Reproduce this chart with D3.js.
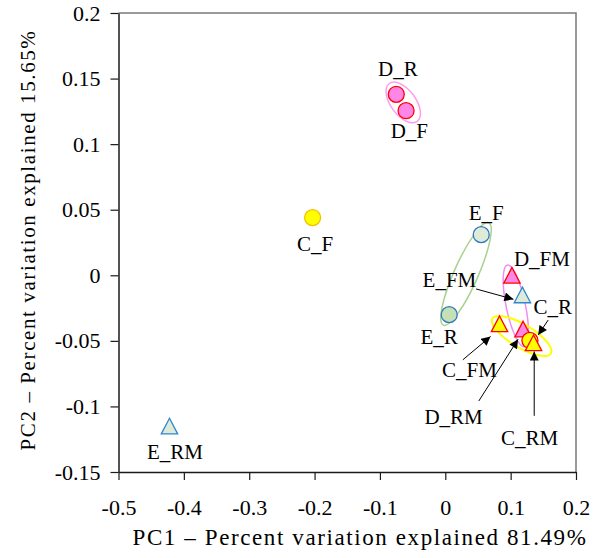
<!DOCTYPE html>
<html>
<head>
<meta charset="utf-8">
<script src="https://cdn.jsdelivr.net/npm/d3@7"></script>
<style>
  body { margin: 0; background: #fff; }
  svg { display: block; font-family: "Liberation Serif", "Times New Roman", serif; }
</style>
</head>
<body>
<svg id="chart" width="604" height="558"></svg>
<script>
// sample scores on the first two principal components
var sampleNames = ["D_R", "D_F", "C_F", "E_F", "E_R", "D_FM", "E_FM", "C_FM", "D_RM", "C_R", "C_RM", "E_RM"];
var pc1 = [-0.075, -0.060, -0.203, 0.055, 0.006, 0.102, 0.118, 0.083, 0.119, 0.1295, 0.135, -0.422];
var pc2 = [0.138, 0.1255, 0.044, 0.031, -0.030, 0.000, -0.015, -0.037, -0.041, -0.0497, -0.0515, -0.115];

var xTicks = [-0.5, -0.4, -0.3, -0.2, -0.1, 0, 0.1, 0.2];
var yTicks = [-0.15, -0.1, -0.05, 0, 0.05, 0.1, 0.15, 0.2];

var xTitle = "PC1 \u2013 Percent variation explained 81.49%";
var yTitle = "PC2 \u2013 Percent variation explained 15.65%";

// group ellipses: centre in data units
var ellipseNames = ["D", "E", "DM", "C"];
var ellipseCx = [-0.0643, 0.0317, 0.1079, 0.1169];
var ellipseCy = [0.1318, 0.001, -0.0233, -0.0463];

// labels with a leader arrow
var arrowNames = ["E_FM", "C_R", "C_FM", "D_RM", "C_RM"];

// ---- styles / layout (pixels) ----
var markerStyle = {
	"D_R":  {shape: "circle",   fill: "#ff85e6", stroke: "#ff0000"},
	"D_F":  {shape: "circle",   fill: "#ff85e6", stroke: "#ff0000"},
	"C_F":  {shape: "circle",   fill: "#ffff00", stroke: "#f2c200"},
	"E_F":  {shape: "circle",   fill: "#deebd8", stroke: "#2e78c0"},
	"E_R":  {shape: "circle",   fill: "#c5e0b4", stroke: "#2e78c0"},
	"D_FM": {shape: "triangle", fill: "#ff85e6", stroke: "#ff0000"},
	"E_FM": {shape: "triangle", fill: "#deebd8", stroke: "#2e86d0"},
	"C_FM": {shape: "triangle", fill: "#ffff00", stroke: "#ff0000"},
	"D_RM": {shape: "triangle", fill: "#ff85e6", stroke: "#ff0000"},
	"C_R":  {shape: "circle",   fill: "#ffff00", stroke: "#ff0000"},
	"C_RM": {shape: "triangle", fill: "#ffff00", stroke: "#ff0000"},
	"E_RM": {shape: "triangle", fill: "#deebd8", stroke: "#2e86d0"}
};
// dx to text centre, dy to baseline
var labelOffset = {
	"D_R": [1.7, -18.3], "D_F": [3.3, 27.6], "C_F": [2.5, 33.7], "E_F": [5, -15],
	"E_R": [-10, 29], "D_FM": [30, -9], "E_FM": [-73, -8.3], "C_FM": [-30, 53.3],
	"D_RM": [-69.5, 95.3], "C_R": [22.8, -26.5], "C_RM": [-3.8, 102], "E_RM": [5.5, 33]
};
// start / end of the leader, relative to the point
var arrowOffset = {
	"E_FM": [-46.3, -6, -9, 4.3],
	"C_R":  [18.3, -20.5, 8.3, -5.5],
	"C_FM": [-36.7, 36, -9, 12.7],
	"D_RM": [-44.3, 72, -5, 10.3],
	"C_RM": [0.7, 73, 0.7, 8.7]
};
var ellipseStyle = {
	"D":  {rx: 23.5, ry: 12.5, rot: 53.7, stroke: "#ff9cee", w: 1.5},
	"E":  {rx: 56,   ry: 12,   rot: 113.9, stroke: "#a9d18e", w: 1.5},
	"DM": {rx: 41.6, ry: 9.6,  rot: 78.3, stroke: "#f08cf5", w: 1.5},
	"C":  {rx: 34,   ry: 11.5, rot: 30.8, stroke: "#ffff00", w: 2}
};

var svg = d3.select("#chart");

var x = d3.scaleLinear().domain([-0.5, 0.2]).range([118.5, 576]);
var y = d3.scaleLinear().domain([-0.15, 0.2]).range([472, 13]);

function fmt (d) { return String(Math.round(d * 100) / 100); }

// frame top / right
svg.append("path")
	.attr("d", "M" + x(-0.5) + "," + y(0.2) + "H" + x(0.2) + "V" + y(-0.15))
	.attr("fill", "none")
	.attr("stroke", "#7a7a7a")
	.attr("stroke-width", 1.5);

var gx = svg.append("g")
	.attr("transform", "translate(0," + y(-0.15) + ")")
	.call(d3.axisBottom(x).tickValues(xTicks).tickFormat(fmt).tickSize(8).tickSizeOuter(0).tickPadding(19));
var gy = svg.append("g")
	.attr("transform", "translate(" + x(-0.5) + ",0)")
	.call(d3.axisLeft(y).tickValues(yTicks).tickFormat(fmt).tickSize(8).tickSizeOuter(0).tickPadding(10));

[gx, gy].forEach(function (g) {
	g.attr("font-family", null).attr("font-size", null);
	g.select(".domain").attr("stroke", "#1a1a1a").attr("stroke-width", 1.5);
	g.selectAll(".tick line").attr("stroke", "#1a1a1a").attr("stroke-width", 1.2);
	g.selectAll(".tick text").attr("font-size", "22px").attr("fill", "#000");
});

// axis titles
svg.append("text")
	.attr("x", 360).attr("y", 545)
	.attr("text-anchor", "middle")
	.attr("font-size", "23px")
	.attr("letter-spacing", "1.6px")
	.text(xTitle);
svg.append("text")
	.attr("transform", "translate(35," + 240 + ") rotate(-90)")
	.attr("text-anchor", "middle")
	.attr("font-size", "21px")
	.attr("letter-spacing", "1.6px")
	.text(yTitle);

// group ellipses
svg.append("g").selectAll("ellipse")
	.data(ellipseNames)
	.enter().append("ellipse")
	.attr("transform", function (d, i) {
		return "translate(" + x(ellipseCx[i]) + "," + y(ellipseCy[i]) + ") rotate(" + ellipseStyle[d].rot + ")";
	})
	.attr("rx", function (d) { return ellipseStyle[d].rx; })
	.attr("ry", function (d) { return ellipseStyle[d].ry; })
	.attr("fill", "none")
	.attr("stroke", function (d) { return ellipseStyle[d].stroke; })
	.attr("stroke-width", function (d) { return ellipseStyle[d].w; });

// points
svg.append("g").selectAll("path")
	.data(sampleNames)
	.enter().append("path")
	.attr("transform", function (d, i) { return "translate(" + x(pc1[i]) + "," + y(pc2[i]) + ")"; })
	.attr("d", function (d) {
		if (markerStyle[d].shape === "circle") return "M8,0A8,8 0 1,1 -8,0A8,8 0 1,1 8,0Z";
		return "M0,-7.8L8.2,7.8L-8.2,7.8Z";
	})
	.attr("fill", function (d) { return markerStyle[d].fill; })
	.attr("stroke", function (d) { return markerStyle[d].stroke; })
	.attr("stroke-width", 1.3);

// leader arrows
svg.append("defs").append("marker")
	.attr("id", "arrowhead")
	.attr("viewBox", "0 0 10 10")
	.attr("refX", 10).attr("refY", 5)
	.attr("markerWidth", 10).attr("markerHeight", 9)
	.attr("markerUnits", "userSpaceOnUse")
	.attr("orient", "auto")
	.append("path")
	.attr("d", "M0,0L10,5L0,10Z")
	.attr("fill", "#000");

svg.append("g").selectAll("line")
	.data(arrowNames)
	.enter().append("line")
	.each(function (d) {
		var i = sampleNames.indexOf(d);
		var px = x(pc1[i]), py = y(pc2[i]), o = arrowOffset[d];
		d3.select(this)
			.attr("x1", px + o[0]).attr("y1", py + o[1])
			.attr("x2", px + o[2]).attr("y2", py + o[3]);
	})
	.attr("stroke", "#000")
	.attr("stroke-width", 1)
	.attr("marker-end", "url(#arrowhead)");

// labels
svg.append("g").selectAll("text")
	.data(sampleNames)
	.enter().append("text")
	.attr("x", function (d, i) { return x(pc1[i]) + labelOffset[d][0]; })
	.attr("y", function (d, i) { return y(pc2[i]) + labelOffset[d][1]; })
	.attr("text-anchor", "middle")
	.attr("font-size", "21px")
	.attr("fill", "#000")
	.text(function (d) { return d; });
</script>
</body>
</html>
